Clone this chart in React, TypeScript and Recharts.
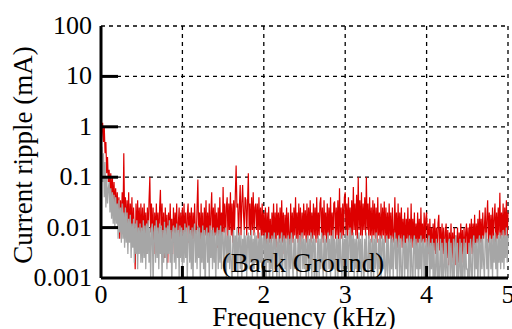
import React from "react";
import {
  LineChart,
  Line,
  XAxis,
  YAxis,
  CartesianGrid,
} from "recharts";

// spectrum sampled every 0.01 kHz, 0 .. 5 kHz
const FREQ_STEP = 0.01;

// measured ripple (mA)
const ripple = [
  // 0.00 - 0.49
  0.3, 0.8, 1.2, 0.5, 1.0, 0.3, 0.5, 0.12, 0.25, 0.08,
  0.14, 0.05, 0.12, 0.04, 0.1, 0.03, 0.08, 0.025, 0.06, 0.02,
  0.05, 0.012, 0.04, 0.006, 0.035, 0.01, 0.05, 0.012, 0.3, 0.015,
  0.04, 0.008, 0.035, 0.01, 0.05, 0.006, 0.03, 0.009, 0.04, 0.005,
  0.025, 0.007, 0.0015, 0.03, 0.006, 0.035, 0.008, 0.025, 0.005, 0.03,
  // 0.50 - 0.99
  0.006, 0.025, 0.004, 0.03, 0.007, 0.02, 0.003, 0.025, 0.006, 0.035,
  0.1, 0.008, 0.03, 0.005, 0.025, 0.003, 0.02, 0.006, 0.03, 0.007,
  0.02, 0.004, 0.025, 0.056, 0.006, 0.03, 0.005, 0.02, 0.0025, 0.025,
  0.006, 0.018, 0.002, 0.02, 0.005, 0.03, 0.006, 0.015, 0.003, 0.025,
  0.005, 0.02, 0.007, 0.03, 0.004, 0.012, 0.025, 0.005, 0.02, 0.007,
  // 1.00 - 1.49
  0.025, 0.005, 0.03, 0.006, 0.02, 0.003, 0.018, 0.03, 0.005, 0.02,
  0.007, 0.025, 0.004, 0.02, 0.006, 0.03, 0.007, 0.005, 0.025, 0.09,
  0.007, 0.02, 0.004, 0.03, 0.006, 0.02, 0.002, 0.025, 0.007, 0.035,
  0.005, 0.02, 0.006, 0.03, 0.004, 0.02, 0.05, 0.006, 0.025, 0.005,
  0.03, 0.007, 0.02, 0.004, 0.025, 0.006, 0.04, 0.007, 0.02, 0.005,
  // 1.50 - 1.99
  0.064, 0.008, 0.03, 0.005, 0.025, 0.04, 0.006, 0.03, 0.009, 0.05,
  0.007, 0.03, 0.005, 0.035, 0.009, 0.045, 0.17, 0.025, 0.03, 0.007,
  0.025, 0.07, 0.007, 0.03, 0.07, 0.02, 0.009, 0.04, 0.035, 0.007,
  0.03, 0.12, 0.009, 0.03, 0.007, 0.04, 0.009, 0.05, 0.007, 0.025,
  0.03, 0.009, 0.03, 0.006, 0.04, 0.009, 0.025, 0.005, 0.03, 0.007,
  // 2.00 - 2.49
  0.02, 0.005, 0.025, 0.004, 0.02, 0.006, 0.026, 0.005, 0.015, 0.003,
  0.02, 0.006, 0.03, 0.005, 0.02, 0.004, 0.03, 0.007, 0.02, 0.005,
  0.025, 0.006, 0.035, 0.005, 0.02, 0.003, 0.018, 0.006, 0.025, 0.005,
  0.02, 0.007, 0.004, 0.03, 0.006, 0.02, 0.005, 0.025, 0.007, 0.04,
  0.006, 0.02, 0.005, 0.03, 0.007, 0.025, 0.004, 0.02, 0.006, 0.03,
  // 2.50 - 2.99
  0.007, 0.022, 0.005, 0.03, 0.006, 0.025, 0.007, 0.035, 0.005, 0.02,
  0.006, 0.03, 0.007, 0.025, 0.005, 0.04, 0.006, 0.02, 0.007, 0.03,
  0.04, 0.006, 0.025, 0.005, 0.035, 0.007, 0.02, 0.005, 0.03, 0.006,
  0.025, 0.007, 0.04, 0.006, 0.02, 0.005, 0.03, 0.033, 0.006, 0.025,
  0.007, 0.035, 0.005, 0.06, 0.007, 0.025, 0.006, 0.03, 0.007, 0.04,
  // 3.00 - 3.49
  0.05, 0.007, 0.03, 0.006, 0.04, 0.009, 0.025, 0.006, 0.035, 0.007,
  0.064, 0.009, 0.03, 0.007, 0.045, 0.006, 0.1, 0.009, 0.035, 0.007,
  0.05, 0.006, 0.03, 0.009, 0.04, 0.007, 0.1, 0.009, 0.03, 0.006,
  0.04, 0.007, 0.025, 0.005, 0.035, 0.007, 0.03, 0.006, 0.025, 0.005,
  0.04, 0.007, 0.02, 0.005, 0.03, 0.006, 0.025, 0.007, 0.033, 0.005,
  // 3.50 - 3.99
  0.025, 0.006, 0.02, 0.005, 0.03, 0.006, 0.02, 0.004, 0.025, 0.007,
  0.005, 0.04, 0.006, 0.02, 0.004, 0.03, 0.005, 0.02, 0.006, 0.025,
  0.004, 0.015, 0.005, 0.02, 0.003, 0.015, 0.006, 0.025, 0.004, 0.015,
  0.005, 0.03, 0.004, 0.015, 0.005, 0.02, 0.003, 0.012, 0.004, 0.02,
  0.005, 0.015, 0.003, 0.025, 0.005, 0.012, 0.0035, 0.02, 0.005, 0.015,
  // 4.00 - 4.49
  0.02, 0.004, 0.012, 0.003, 0.015, 0.004, 0.01, 0.0025, 0.012, 0.0035,
  0.015, 0.003, 0.01, 0.002, 0.012, 0.018, 0.0035, 0.01, 0.0025, 0.012,
  0.003, 0.01, 0.002, 0.008, 0.012, 0.0025, 0.009, 0.0018, 0.008, 0.003,
  0.012, 0.002, 0.008, 0.0025, 0.01, 0.0018, 0.007, 0.003, 0.01, 0.002,
  0.008, 0.0025, 0.012, 0.003, 0.009, 0.002, 0.01, 0.0025, 0.008, 0.012,
  // 4.50 - 5.00
  0.003, 0.01, 0.0025, 0.012, 0.004, 0.015, 0.003, 0.012, 0.0045, 0.018,
  0.0035, 0.012, 0.005, 0.015, 0.004, 0.022, 0.005, 0.015, 0.004, 0.02,
  0.006, 0.01, 0.025, 0.004, 0.015, 0.035, 0.005, 0.02, 0.006, 0.018,
  0.005, 0.025, 0.006, 0.015, 0.03, 0.005, 0.02, 0.006, 0.025, 0.007,
  0.049, 0.006, 0.02, 0.007, 0.03, 0.006, 0.025, 0.007, 0.035, 0.006,
  0.02,
];

// back ground (mA)
const background = [
  // 0.00 - 0.49
  0.1, 0.4, 0.08, 0.3, 0.04, 0.2, 0.025, 0.1, 0.03, 0.06,
  0.08, 0.02, 0.06, 0.015, 0.05, 0.012, 0.045, 0.01, 0.04, 0.012,
  0.03, 0.006, 0.035, 0.008, 0.025, 0.005, 0.03, 0.006, 0.02, 0.004,
  0.025, 0.005, 0.02, 0.003, 0.015, 0.005, 0.018, 0.0025, 0.012, 0.004,
  0.015, 0.002, 0.012, 0.003, 0.014, 0.0015, 0.01, 0.003, 0.012, 0.002,
  // 0.50 - 0.99
  0.01, 0.002, 0.014, 0.0025, 0.011, 0.0015, 0.012, 0.003, 0.014, 0.002,
  0.01, 0.001, 0.009, 0.012, 0.0006, 0.008, 0.011, 0.002, 0.014, 0.0025,
  0.01, 0.0015, 0.012, 0.003, 0.011, 0.0008, 0.009, 0.002, 0.013, 0.0025,
  0.01, 0.0015, 0.011, 0.003, 0.014, 0.002, 0.009, 0.0007, 0.008, 0.011,
  0.002, 0.01, 0.0015, 0.012, 0.0025, 0.009, 0.001, 0.011, 0.0025, 0.01,
  // 1.00 - 1.49
  0.0015, 0.009, 0.002, 0.012, 0.0025, 0.01, 0.001, 0.008, 0.011, 0.002,
  0.009, 0.0015, 0.01, 0.0008, 0.008, 0.012, 0.002, 0.009, 0.0015, 0.011,
  0.0025, 0.01, 0.001, 0.008, 0.002, 0.011, 0.0015, 0.009, 0.0005, 0.007,
  0.01, 0.002, 0.008, 0.001, 0.011, 0.0025, 0.009, 0.0015, 0.01, 0.002,
  0.008, 0.0007, 0.007, 0.01, 0.0015, 0.009, 0.002, 0.011, 0.0015, 0.008,
  // 1.50 - 1.99
  0.008, 0.0015, 0.006, 0.01, 0.001, 0.007, 0.002, 0.009, 0.0015, 0.007,
  0.002, 0.0007, 0.006, 0.009, 0.0015, 0.007, 0.002, 0.01, 0.001, 0.006,
  0.008, 0.0015, 0.007, 0.0008, 0.006, 0.002, 0.009, 0.0015, 0.007, 0.001,
  0.006, 0.008, 0.0015, 0.007, 0.002, 0.009, 0.001, 0.006, 0.0015, 0.008,
  0.002, 0.007, 0.0007, 0.006, 0.0015, 0.008, 0.002, 0.007, 0.001, 0.006,
  // 2.00 - 2.49
  0.007, 0.0015, 0.008, 0.001, 0.006, 0.002, 0.008, 0.0007, 0.006, 0.0015,
  0.007, 0.001, 0.005, 0.008, 0.0015, 0.006, 0.0008, 0.005, 0.007, 0.001,
  0.006, 0.0015, 0.008, 0.001, 0.005, 0.007, 0.0015, 0.006, 0.0005, 0.005,
  0.007, 0.001, 0.006, 0.0015, 0.008, 0.002, 0.001, 0.006, 0.0015, 0.007,
  0.002, 0.0008, 0.006, 0.0015, 0.007, 0.001, 0.005, 0.008, 0.0015, 0.006,
  // 2.50 - 2.99
  0.0015, 0.006, 0.0007, 0.005, 0.007, 0.001, 0.006, 0.0015, 0.008, 0.001,
  0.005, 0.007, 0.001, 0.006, 0.0015, 0.0005, 0.005, 0.007, 0.001, 0.006,
  0.0015, 0.008, 0.002, 0.001, 0.007, 0.0015, 0.006, 0.0008, 0.005, 0.008,
  0.0015, 0.006, 0.001, 0.007, 0.002, 0.009, 0.0015, 0.006, 0.0007, 0.005,
  0.007, 0.001, 0.006, 0.0015, 0.008, 0.002, 0.001, 0.007, 0.0015, 0.006,
  // 3.00 - 3.49
  0.002, 0.009, 0.0015, 0.007, 0.001, 0.006, 0.01, 0.0015, 0.007, 0.002,
  0.008, 0.001, 0.006, 0.0015, 0.007, 0.0008, 0.005, 0.008, 0.0015, 0.006,
  0.001, 0.007, 0.002, 0.0007, 0.006, 0.0015, 0.008, 0.002, 0.001, 0.007,
  0.0015, 0.006, 0.0005, 0.005, 0.007, 0.001, 0.006, 0.0015, 0.008, 0.002,
  0.001, 0.006, 0.0015, 0.007, 0.0008, 0.005, 0.007, 0.0015, 0.006, 0.001,
  // 3.50 - 3.99
  0.0015, 0.007, 0.001, 0.006, 0.002, 0.0008, 0.007, 0.0015, 0.006, 0.001,
  0.005, 0.008, 0.0015, 0.006, 0.0007, 0.005, 0.007, 0.001, 0.006, 0.0015,
  0.0005, 0.005, 0.007, 0.001, 0.005, 0.0015, 0.006, 0.0008, 0.005, 0.007,
  0.001, 0.006, 0.0015, 0.0005, 0.005, 0.007, 0.001, 0.006, 0.0015, 0.005,
  0.0007, 0.006, 0.0015, 0.007, 0.001, 0.005, 0.006, 0.0008, 0.005, 0.0015,
  // 4.00 - 4.49
  0.006, 0.001, 0.005, 0.007, 0.0008, 0.005, 0.0015, 0.006, 0.001, 0.005,
  0.0007, 0.0015, 0.006, 0.001, 0.005, 0.0005, 0.0015, 0.006, 0.001, 0.005,
  0.0008, 0.0015, 0.006, 0.001, 0.005, 0.0015, 0.0005, 0.005, 0.006, 0.001,
  0.005, 0.0015, 0.0007, 0.006, 0.001, 0.005, 0.007, 0.001, 0.005, 0.0008,
  0.0015, 0.006, 0.001, 0.005, 0.0006, 0.0015, 0.006, 0.001, 0.005, 0.0015,
  // 4.50 - 5.00
  0.0015, 0.0007, 0.005, 0.001, 0.006, 0.0015, 0.0008, 0.005, 0.007, 0.001,
  0.005, 0.0015, 0.006, 0.0007, 0.005, 0.007, 0.001, 0.006, 0.0015, 0.007,
  0.002, 0.001, 0.006, 0.008, 0.0015, 0.006, 0.0008, 0.005, 0.007, 0.0015,
  0.006, 0.001, 0.007, 0.002, 0.008, 0.0015, 0.006, 0.0007, 0.007, 0.002,
  0.008, 0.0015, 0.007, 0.002, 0.009, 0.0015, 0.007, 0.0025, 0.01, 0.002,
  0.007,
];

const xTicks = [0, 1, 2, 3, 4, 5];
const yTicks = [0.001, 0.01, 0.1, 1, 10, 100];

const data = ripple.map((v, i) => ({
  f: +(i * FREQ_STEP).toFixed(2),
  ripple: v,
  bg: background[i],
}));

const FONT = "'Liberation Serif', 'Times New Roman', serif";
const X_DOMAIN: [number, number] = [0, 5];
const Y_DOMAIN: [number, number] = [0.001, 100];

const isEdgeX = (v: number) => v === 0 || v === 5;
const isEdgeY = (v: number) => v === 0.001 || v === 100;

const BottomTick = ({ x, y, payload }: any) => (
  <g>
    {!isEdgeX(payload.value) && (
      <line x1={x} y1={y} x2={x} y2={y - 12} stroke="#000" strokeWidth={3} />
    )}
    <text x={x} y={y + 25} textAnchor="middle" fontSize={26} fontFamily={FONT} fill="#000">
      {payload.value}
    </text>
  </g>
);

const TopTick = ({ x, y, payload }: any) =>
  isEdgeX(payload.value) ? <g /> : (
    <line x1={x} y1={y} x2={x} y2={y + 15} stroke="#000" strokeWidth={3} />
  );

const LeftTick = ({ x, y, payload }: any) => (
  <g>
    {!isEdgeY(payload.value) && (
      <line x1={x} y1={y} x2={x + 17} y2={y} stroke="#000" strokeWidth={3} />
    )}
    <text x={x - 9} y={y + 8} textAnchor="end" fontSize={26} fontFamily={FONT} fill="#000">
      {String(payload.value)}
    </text>
  </g>
);

const RightTick = ({ x, y, payload }: any) =>
  isEdgeY(payload.value) ? <g /> : (
    <line x1={x} y1={y} x2={x - 17} y2={y} stroke="#000" strokeWidth={3} />
  );

const frame = { stroke: "#000", strokeWidth: 3 };

export default function App() {
  return (
    <div style={{ position: "absolute", left: 0, top: 0, width: 512, height: 329, background: "#fff" }}>
      <LineChart
        width={512}
        height={329}
        data={data}
        margin={{ top: 26, right: 4, bottom: 0, left: 0 }}
      >
        <CartesianGrid
          xAxisId="b"
          yAxisId="l"
          stroke="#000"
          strokeWidth={1.3}
          strokeDasharray="4 4"
        />
        <XAxis
          xAxisId="b"
          dataKey="f"
          type="number"
          domain={X_DOMAIN}
          ticks={xTicks}
          height={51}
          tickSize={0}
          tickMargin={0}
          tick={<BottomTick />}
          axisLine={frame}
          interval={0}
        />
        <XAxis
          xAxisId="t"
          orientation="top"
          dataKey="f"
          type="number"
          domain={X_DOMAIN}
          ticks={xTicks}
          height={0}
          tickSize={0}
          tickMargin={0}
          tick={<TopTick />}
          axisLine={frame}
          interval={0}
        />
        <YAxis
          yAxisId="l"
          scale="log"
          domain={Y_DOMAIN}
          ticks={yTicks}
          allowDataOverflow
          width={101}
          tickSize={0}
          tickMargin={0}
          tick={<LeftTick />}
          axisLine={frame}
          interval={0}
        />
        <YAxis
          yAxisId="r"
          orientation="right"
          scale="log"
          domain={Y_DOMAIN}
          ticks={yTicks}
          allowDataOverflow
          width={0}
          tickSize={0}
          tickMargin={0}
          tick={<RightTick />}
          axisLine={frame}
          interval={0}
        />
        <Line
          xAxisId="b"
          yAxisId="l"
          dataKey="ripple"
          type="linear"
          stroke="#dd0000"
          strokeWidth={1.2}
          dot={false}
          isAnimationActive={false}
        />
        <Line
          xAxisId="b"
          yAxisId="l"
          dataKey="bg"
          type="linear"
          stroke="#a6a6a6"
          strokeWidth={1.3}
          dot={false}
          isAnimationActive={false}
        />
      </LineChart>
      <svg
        width={512}
        height={329}
        style={{ position: "absolute", left: 0, top: 0, pointerEvents: "none" }}
      >
        <text
          transform="translate(32,155) rotate(-90)"
          textAnchor="middle"
          fontSize={27}
          fontFamily={FONT}
          fill="#000"
        >
          Current ripple (mA)
        </text>
        <text x={304} y={326} textAnchor="middle" fontSize={27} fontFamily={FONT} fill="#000">
          Frequency (kHz)
        </text>
        <text x={303} y={272} textAnchor="middle" fontSize={27} fontFamily={FONT} fill="#000">
          (Back Ground)
        </text>
      </svg>
    </div>
  );
}
